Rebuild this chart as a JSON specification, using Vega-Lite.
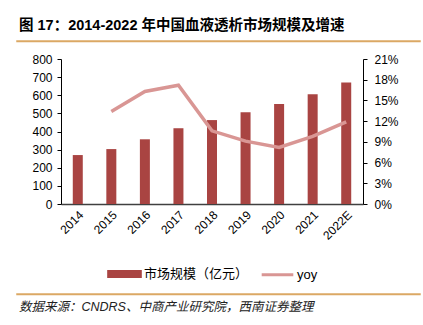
{
  "$schema": "https://vega.github.io/schema/vega-lite/v6.json",
  "padding": {"left": 16, "top": 16, "right": 4, "bottom": 2},
  "config": {
    "font": "Liberation Sans, Noto Sans CJK SC",
    "view": {"stroke": null},
    "legend": {"layout": {"bottom": {"anchor": "middle"}}}
  },
  "datasets": {
    "d": [
      {"year": "2014", "size": 270, "yoy": null},
      {"year": "2015", "size": 303, "yoy": 0.134},
      {"year": "2016", "size": 357, "yoy": 0.163},
      {"year": "2017", "size": 418, "yoy": 0.172},
      {"year": "2018", "size": 463, "yoy": 0.106},
      {"year": "2019", "size": 506, "yoy": 0.091},
      {"year": "2020", "size": 552, "yoy": 0.082},
      {"year": "2021", "size": 605, "yoy": 0.098},
      {"year": "2022E", "size": 671, "yoy": 0.119}
    ]
  },
  "spacing": 10,
  "resolve": {"legend": {"color": "independent"}, "scale": {"color": "independent"}},
  "vconcat": [
    {
      "width": 403,
      "height": 0.5,
      "data": {"values": []},
      "mark": "point",
      "view": {"stroke": "#dba864", "strokeWidth": 1.5},
      "title": {
        "text": "图 17：2014-2022 年中国血液透析市场规模及增速",
        "anchor": "start",
        "fontSize": 14.5,
        "fontWeight": "bold",
        "offset": 8,
        "dx": 2,
        "color": "#000000"
      }
    },
    {
      "spacing": 13,
      "resolve": {"legend": {"color": "independent"}, "scale": {"color": "independent"}},
      "hconcat": [
        {"width": 0.5, "height": 145, "data": {"values": []}, "mark": "point"},
        {
          "width": 302,
          "height": 145,
          "data": {"name": "d"},
          "encoding": {
            "x": {
              "field": "year",
              "type": "ordinal",
              "sort": null,
              "scale": {"paddingInner": 0, "paddingOuter": 0},
              "axis": {
                "title": null,
                "labelAngle": -45,
                "ticks": false,
                "labelPadding": 5,
                "labelFontSize": 12,
                "labelColor": "#000000",
                "domainColor": "#404040",
                "domainWidth": 1.5
              }
            }
          },
          "layer": [
            {
              "mark": {"type": "bar", "width": 10},
              "encoding": {
                "y": {
                  "field": "size",
                  "type": "quantitative",
                  "scale": {"domain": [0, 800], "nice": false},
                  "axis": {
                    "title": null,
                    "orient": "left",
                    "values": [0, 100, 200, 300, 400, 500, 600, 700, 800],
                    "grid": false,
                    "tickSize": 4,
                    "labelPadding": 5,
                    "labelFontSize": 12,
                    "labelColor": "#000000",
                    "domainColor": "#000000",
                    "tickColor": "#000000"
                  }
                },
                "color": {
                  "datum": "市场规模（亿元）",
                  "scale": {"domain": ["市场规模（亿元）", "yoy"], "range": ["#a94442", "#d99694"]},
                  "legend": {
                    "title": null,
                    "orient": "bottom",
                    "direction": "horizontal",
                    "labelFontSize": 13,
                    "labelColor": "#000000",
                    "symbolSize": 1000,
                    "columnPadding": 6,
                    "labelOffset": 2,
                    "offset": 14,
                    "encode": {
                      "symbols": {
                        "update": {
                          "shape": {"signal": "datum.value === 'yoy' ? 'M-1,0H1' : 'M-1,-0.16H1V0.16H-1Z'"},
                          "fill": {"signal": "datum.value === 'yoy' ? 'transparent' : '#a94442'"},
                          "stroke": {"signal": "datum.value === 'yoy' ? '#d99694' : 'transparent'"},
                          "strokeWidth": {"value": 3},
                          "opacity": {"value": 1}
                        }
                      }
                    }
                  }
                }
              }
            },
            {
              "mark": {"type": "line", "strokeWidth": 3.5},
              "encoding": {
                "y": {
                  "field": "yoy",
                  "type": "quantitative",
                  "scale": {"domain": [0, 0.21], "nice": false},
                  "axis": {
                    "title": null,
                    "orient": "right",
                    "format": ".0%",
                    "values": [0, 0.03, 0.06, 0.09, 0.12, 0.15, 0.18, 0.21],
                    "grid": false,
                    "tickSize": 4,
                    "labelPadding": 7,
                    "labelFontSize": 12,
                    "labelColor": "#000000",
                    "domainColor": "#000000",
                    "tickColor": "#000000"
                  }
                },
                "color": {"datum": "yoy"}
              }
            }
          ],
          "resolve": {"scale": {"y": "independent"}}
        }
      ]
    },
    {
      "width": 403,
      "height": 0.5,
      "data": {"values": []},
      "mark": "point",
      "view": {"stroke": "#dba864", "strokeWidth": 1.5},
      "title": {
        "text": "数据来源：CNDRS、中商产业研究院，西南证券整理",
        "orient": "bottom",
        "anchor": "start",
        "fontSize": 12.5,
        "fontStyle": "italic",
        "fontWeight": "normal",
        "offset": 6,
        "dx": 2,
        "color": "#222222"
      }
    }
  ]
}
